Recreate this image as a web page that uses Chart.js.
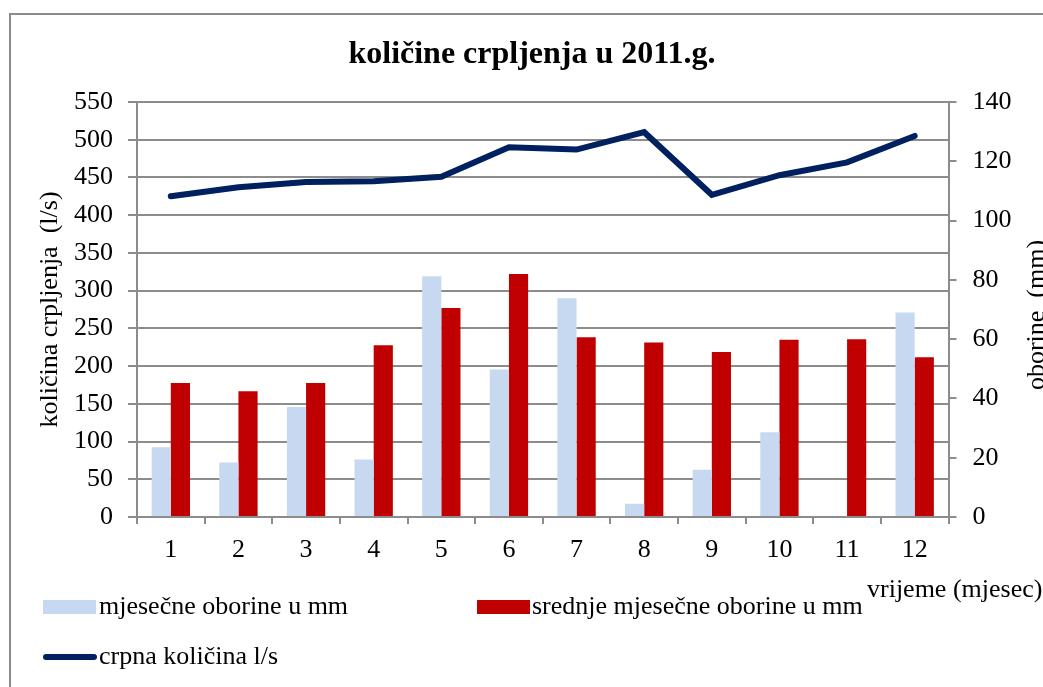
<!DOCTYPE html>
<html>
<head>
<meta charset="utf-8">
<title>količine crpljenja u 2011.g.</title>
<script src="https://cdn.jsdelivr.net/npm/chart.js@4.4.1/dist/chart.umd.min.js"></script>
<style>
  html, body { margin: 0; padding: 0; background: #fff; }
  #okvir { width: 1043px; height: 687px; position: relative; }
</style>
</head>
<body>
<div id="okvir"><canvas id="grafikon"></canvas></div>
<script>
// mjeseci 2011.
const mjeseci = ['1', '2', '3', '4', '5', '6', '7', '8', '9', '10', '11', '12'];
// oborine u mm (desna os)
const oborine = [23.5, 18.4, 37.1, 19.4, 81.2, 49.8, 73.8, 4.5, 15.9, 28.6, 0, 69.0];
const srednjeOborine = [45.2, 42.4, 45.2, 57.9, 70.5, 82.0, 60.6, 58.9, 55.7, 59.8, 60.0, 53.9];
// crpna količina l/s (lijeva os)
const crpnaKolicina = [425, 437, 444, 445, 451, 490, 487, 510, 427, 453, 470, 505];

const naslov = 'količine crpljenja u 2011.g.';
const font = '"Liberation Serif", "Times New Roman", serif';
const siva = '#8c8c8c';

// okvir, naslov, naslovi osi i legenda crtaju se ručno
const dodaci = {
  id: 'dodaci',
  afterDraw(chart) {
    const ctx = chart.ctx;
    const ds = chart.data.datasets;
    ctx.save();
    ctx.strokeStyle = siva;
    ctx.lineWidth = 2;
    ctx.strokeRect(10, 14, 1200, 800);

    ctx.fillStyle = '#000';
    ctx.font = 'bold 32px ' + font;
    ctx.textAlign = 'center';
    ctx.textBaseline = 'alphabetic';
    ctx.fillText(naslov, 532, 63);

    ctx.font = '26px ' + font;
    ctx.save();
    ctx.translate(1037, 315);
    ctx.rotate(-Math.PI / 2);
    ctx.textBaseline = 'middle';
    ctx.fillText('oborine  (mm)', 0, 0);
    ctx.restore();

    ctx.textAlign = 'left';
    ctx.fillText('vrijeme (mjesec)', 867, 597);

    // legenda
    ctx.textBaseline = 'middle';
    ctx.fillStyle = ds[1].backgroundColor;
    ctx.fillRect(43, 600, 53, 14);
    ctx.fillStyle = ds[2].backgroundColor;
    ctx.fillRect(477, 600, 53, 14);
    ctx.strokeStyle = ds[0].borderColor;
    ctx.lineWidth = 6;
    ctx.lineCap = 'round';
    ctx.beginPath();
    ctx.moveTo(46, 657);
    ctx.lineTo(94, 657);
    ctx.stroke();
    ctx.fillStyle = '#000';
    ctx.fillText(ds[1].label, 99, 607);
    ctx.fillText(ds[2].label, 532, 607);
    ctx.fillText(ds[0].label, 99, 657);
    ctx.restore();
  }
};

new Chart(document.getElementById('grafikon'), {
  type: 'bar',
  data: {
    labels: mjeseci,
    datasets: [
      {
        type: 'line',
        label: 'crpna količina l/s',
        data: crpnaKolicina,
        yAxisID: 'y',
        borderColor: '#002060',
        backgroundColor: '#002060',
        borderWidth: 6,
        borderCapStyle: 'round',
        pointRadius: 0,
        tension: 0,
        order: 0
      },
      {
        label: 'mjesečne oborine u mm',
        data: oborine,
        yAxisID: 'y1',
        backgroundColor: '#c6d9f1',
        order: 1
      },
      {
        label: 'srednje mjesečne oborine u mm',
        data: srednjeOborine,
        yAxisID: 'y1',
        backgroundColor: '#c00000',
        order: 1
      }
    ]
  },
  options: {
    responsive: true,
    maintainAspectRatio: false,
    animation: false,
    layout: { padding: { top: 102, left: 0, right: 0, bottom: 0 } },
    datasets: { bar: { categoryPercentage: 0.567, barPercentage: 1 } },
    plugins: {
      legend: { display: false },
      title: { display: false },
      tooltip: { enabled: false }
    },
    scales: {
      x: {
        offset: true,
        grid: { offset: true, drawOnChartArea: false, tickLength: 7, color: siva, lineWidth: 2 },
        border: { color: siva, width: 2 },
        ticks: { color: '#000', font: { family: font, size: 26 }, padding: 11, maxRotation: 0 },
        afterFit(s) { s.height = 170; }
      },
      y: {
        position: 'left',
        min: 0,
        max: 550,
        ticks: { stepSize: 50, color: '#000', font: { family: font, size: 26 }, padding: 15 },
        grid: { color: siva, lineWidth: 2, tickLength: 9 },
        border: { color: siva, width: 2 },
        title: {
          display: true,
          text: 'količina crpljenja  (l/s)',
          color: '#000',
          font: { family: font, size: 26 },
          padding: { top: 35, bottom: 0 }
        },
        afterFit(s) { s.width = 137; }
      },
      y1: {
        position: 'right',
        min: 0,
        max: 140,
        ticks: { stepSize: 20, color: '#000', font: { family: font, size: 26 }, padding: 16 },
        grid: { drawOnChartArea: false, color: siva, lineWidth: 2, tickLength: 8 },
        border: { color: siva, width: 2 },
        afterFit(s) { s.width = 94.5; }
      }
    }
  },
  plugins: [dodaci]
});
</script>
</body>
</html>
